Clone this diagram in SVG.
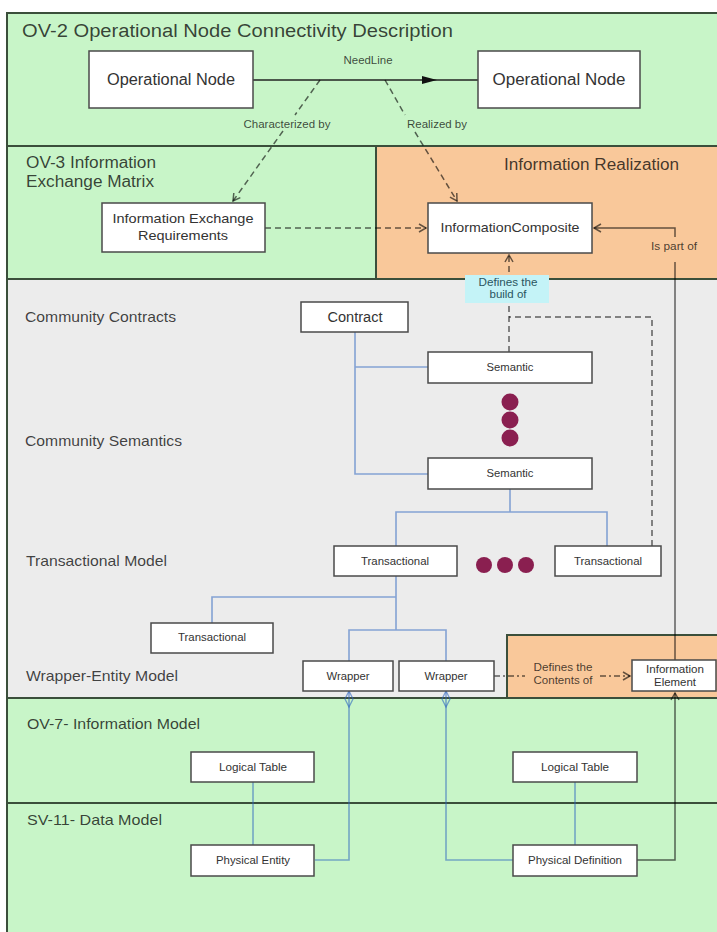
<svg xmlns="http://www.w3.org/2000/svg" width="717" height="932" viewBox="0 0 717 932">
<style>
text{font-family:"Liberation Sans",Arial,sans-serif}
.sec{font-size:15px;fill:#000;fill-opacity:.74}
.box{fill:#fff;stroke:#4a4a4a;stroke-width:1.5}
.bt{fill:#333;text-anchor:middle}
.lbl{fill:#000;fill-opacity:.72;text-anchor:middle;font-size:11px}
.div{stroke:#3b4f3b;stroke-width:2;fill:none}
.bl{stroke:#2f66c0;stroke-opacity:.55;stroke-width:1.6;fill:none}
.dsh{stroke:#000;stroke-opacity:.6;stroke-width:1.5;fill:none;stroke-dasharray:6 4}
.dd{stroke:#000;stroke-opacity:.6;stroke-width:1.5;fill:none;stroke-dasharray:6 3 2 3}
.sd{stroke:#000;stroke-opacity:.6;stroke-width:1.5;fill:none}
.dot{fill:#8a1f50}
</style>
<defs>
<marker id="tri" markerWidth="16" markerHeight="10" refX="15" refY="5" orient="auto" markerUnits="userSpaceOnUse"><path d="M0,1 L15,5 L0,9 z" fill="#111"/></marker>
<marker id="open" markerWidth="12" markerHeight="12" refX="9" refY="5" orient="auto" markerUnits="userSpaceOnUse"><path d="M2,1 L9,5 L2,9" fill="none" stroke="#000" stroke-opacity=".6" stroke-width="1.5"/></marker>
<marker id="dia" markerWidth="18" markerHeight="10" refX="0" refY="4.5" orient="auto" markerUnits="userSpaceOnUse"><path d="M0,4.5 L8,0.5 L16,4.5 L8,8.5 z" fill="none" stroke="#2f66c0" stroke-opacity=".6" stroke-width="1.3"/></marker>
</defs>

<g id="regions">
<rect x="7" y="13" width="710" height="133" fill="#c8f5c8"/>
<rect x="7" y="146" width="369" height="133" fill="#c8f5c8"/>
<rect x="376" y="146" width="341" height="133" fill="#f9c89a"/>
<rect x="7" y="279" width="710" height="419" fill="#ececec"/>
<rect x="507" y="635" width="210" height="63" fill="#f9c89a"/>
<rect x="7" y="698" width="710" height="105" fill="#c8f5c8"/>
<rect x="7" y="803" width="710" height="129" fill="#c8f5c8"/>
<path class="div" d="M7,932 V13 H717 M7,146 H717 M7,279 H717 M376,146 V279 M7,698 H717 M7,803 H717 M507,698 V635 H717"/>
</g>

<g id="section-labels">
<text class="sec" x="22" y="37" font-size="18" style="font-size:18px" textLength="431" lengthAdjust="spacingAndGlyphs">OV-2 Operational Node Connectivity Description</text>
<text class="sec" x="26" y="168" style="font-size:16px" textLength="130" lengthAdjust="spacingAndGlyphs">OV-3 Information</text>
<text class="sec" x="26" y="187" style="font-size:16px" textLength="128" lengthAdjust="spacingAndGlyphs">Exchange Matrix</text>
<text class="sec" x="504" y="170" style="font-size:16px" textLength="175" lengthAdjust="spacingAndGlyphs">Information Realization</text>
<text class="sec" x="25" y="322" textLength="151" lengthAdjust="spacingAndGlyphs">Community Contracts</text>
<text class="sec" x="25" y="446" textLength="157" lengthAdjust="spacingAndGlyphs">Community Semantics</text>
<text class="sec" x="26" y="566" textLength="141" lengthAdjust="spacingAndGlyphs">Transactional Model</text>
<text class="sec" x="26" y="681" textLength="152" lengthAdjust="spacingAndGlyphs">Wrapper-Entity Model</text>
<text class="sec" x="27" y="729" textLength="173" lengthAdjust="spacingAndGlyphs">OV-7- Information Model</text>
<text class="sec" x="27" y="825" textLength="135" lengthAdjust="spacingAndGlyphs">SV-11- Data Model</text>
</g>

<g id="connectors">
<path d="M253,80 H437" stroke="#222" stroke-width="1.6" fill="none" marker-end="url(#tri)"/>
<path d="M437,80 H478" stroke="#222" stroke-width="1.6" fill="none"/>
<text class="lbl" x="368" y="64" style="font-size:10.5px" textLength="49" lengthAdjust="spacingAndGlyphs">NeedLine</text>
<path class="dsh" d="M320,80 L295,115"/>
<path class="dsh" d="M283,131 L233,201" marker-end="url(#open)"/>
<text class="lbl" x="287" y="128" textLength="87" lengthAdjust="spacingAndGlyphs">Characterized by</text>
<path class="dsh" d="M385,80 L405,115"/>
<path class="dsh" d="M415,132 L457,201" marker-end="url(#open)"/>
<text class="lbl" x="437" y="128" textLength="60" lengthAdjust="spacingAndGlyphs">Realized by</text>
<path class="dsh" d="M265,228 H426" marker-end="url(#open)"/>
<path class="dsh" d="M652,546 V317 H509"/>
<path class="dsh" d="M509,352 V255" marker-end="url(#open)"/>
<rect x="465" y="275" width="84" height="28" fill="#c4f3f7"/>
<text x="508" y="286" fill="#2b5560" text-anchor="middle" style="font-size:11px" textLength="59" lengthAdjust="spacingAndGlyphs">Defines the</text>
<text x="508" y="298" fill="#2b5560" text-anchor="middle" style="font-size:11px" textLength="37" lengthAdjust="spacingAndGlyphs">build of</text>
<path class="sd" d="M675,660 V262"/>
<path class="sd" d="M675,237 V228 H594" marker-end="url(#open)"/>
<text class="lbl" x="674" y="250" style="font-size:10.5px" textLength="46" lengthAdjust="spacingAndGlyphs">Is part of</text>
<path class="sd" d="M637,860 H675 V693" marker-end="url(#open)"/>
<path class="dd" d="M494,676 H525"/>
<path class="dd" d="M600,676 H630" marker-end="url(#open)"/>
<text class="lbl" x="563" y="671" textLength="59" lengthAdjust="spacingAndGlyphs">Defines the</text>
<text class="lbl" x="563" y="684" textLength="59" lengthAdjust="spacingAndGlyphs">Contents of</text>
<path class="bl" d="M355,332 V474 H428 M355,367 H428"/>
<path class="bl" d="M510,489 V512 M396,546 V512 H607 V546"/>
<path class="bl" d="M396,576 V630 M396,597 H212 V623 M349,661 V630 H446 V661"/>
<path class="bl" d="M253,782 V845 M575,782 V845"/>
<path class="bl" d="M349,691 V860 H315" marker-start="url(#dia)"/>
<path class="bl" d="M446,691 V860 H513" marker-start="url(#dia)"/>
<circle class="dot" cx="510" cy="402" r="8.5"/>
<circle class="dot" cx="510" cy="420" r="8.5"/>
<circle class="dot" cx="510" cy="438" r="8.5"/>
<circle class="dot" cx="484" cy="565" r="8"/>
<circle class="dot" cx="505" cy="565" r="8"/>
<circle class="dot" cx="526" cy="565" r="8"/>
</g>

<g id="op-node-1"><rect class="box" x="89" y="51" width="164" height="57"/><text class="bt" x="171" y="85" style="font-size:16px" textLength="128" lengthAdjust="spacingAndGlyphs">Operational Node</text></g>
<g id="op-node-2"><rect class="box" x="478" y="51" width="162" height="57"/><text class="bt" x="559" y="85" style="font-size:16px" textLength="133" lengthAdjust="spacingAndGlyphs">Operational Node</text></g>
<g id="ier"><rect class="box" x="102" y="203" width="163" height="49"/><text class="bt" x="183" y="223" style="font-size:13px" textLength="141" lengthAdjust="spacingAndGlyphs">Information Exchange</text><text class="bt" x="183" y="240" style="font-size:13px" textLength="90" lengthAdjust="spacingAndGlyphs">Requirements</text></g>
<g id="info-composite"><rect class="box" x="428" y="203" width="164" height="50"/><text class="bt" x="510" y="232" style="font-size:13px" textLength="139" lengthAdjust="spacingAndGlyphs">InformationComposite</text></g>
<g id="contract"><rect class="box" x="301" y="302" width="107" height="30"/><text class="bt" x="355" y="322" style="font-size:14px" textLength="55" lengthAdjust="spacingAndGlyphs">Contract</text></g>
<g id="semantic-1"><rect class="box" x="428" y="352" width="164" height="31"/><text class="bt" x="510" y="371" style="font-size:11px" textLength="47" lengthAdjust="spacingAndGlyphs">Semantic</text></g>
<g id="semantic-2"><rect class="box" x="428" y="458" width="164" height="31"/><text class="bt" x="510" y="477" style="font-size:11px" textLength="47" lengthAdjust="spacingAndGlyphs">Semantic</text></g>
<g id="transactional-1"><rect class="box" x="334" y="546" width="123" height="30"/><text class="bt" x="395" y="565" style="font-size:11px" textLength="68" lengthAdjust="spacingAndGlyphs">Transactional</text></g>
<g id="transactional-2"><rect class="box" x="555" y="546" width="106" height="30"/><text class="bt" x="608" y="565" style="font-size:11px" textLength="68" lengthAdjust="spacingAndGlyphs">Transactional</text></g>
<g id="transactional-3"><rect class="box" x="151" y="623" width="122" height="30"/><text class="bt" x="212" y="641" style="font-size:11px" textLength="68" lengthAdjust="spacingAndGlyphs">Transactional</text></g>
<g id="wrapper-1"><rect class="box" x="303" y="661" width="90" height="30"/><text class="bt" x="348" y="680" style="font-size:11px" textLength="43" lengthAdjust="spacingAndGlyphs">Wrapper</text></g>
<g id="wrapper-2"><rect class="box" x="399" y="661" width="95" height="30"/><text class="bt" x="446" y="680" style="font-size:11px" textLength="43" lengthAdjust="spacingAndGlyphs">Wrapper</text></g>
<g id="info-element"><rect class="box" x="632" y="660" width="84" height="31"/><text class="bt" x="675" y="673" style="font-size:11px" textLength="58" lengthAdjust="spacingAndGlyphs">Information</text><text class="bt" x="675" y="686" style="font-size:11px" textLength="42" lengthAdjust="spacingAndGlyphs">Element</text></g>
<g id="logical-table-1"><rect class="box" x="191" y="752" width="123" height="30"/><text class="bt" x="253" y="771" style="font-size:11px" textLength="68" lengthAdjust="spacingAndGlyphs">Logical Table</text></g>
<g id="logical-table-2"><rect class="box" x="513" y="752" width="124" height="30"/><text class="bt" x="575" y="771" style="font-size:11px" textLength="68" lengthAdjust="spacingAndGlyphs">Logical Table</text></g>
<g id="physical-entity"><rect class="box" x="191" y="845" width="123" height="31"/><text class="bt" x="253" y="864" style="font-size:11px" textLength="74" lengthAdjust="spacingAndGlyphs">Physical Entity</text></g>
<g id="physical-definition"><rect class="box" x="513" y="845" width="124" height="31"/><text class="bt" x="575" y="864" style="font-size:11px" textLength="94" lengthAdjust="spacingAndGlyphs">Physical Definition</text></g>
</svg>
